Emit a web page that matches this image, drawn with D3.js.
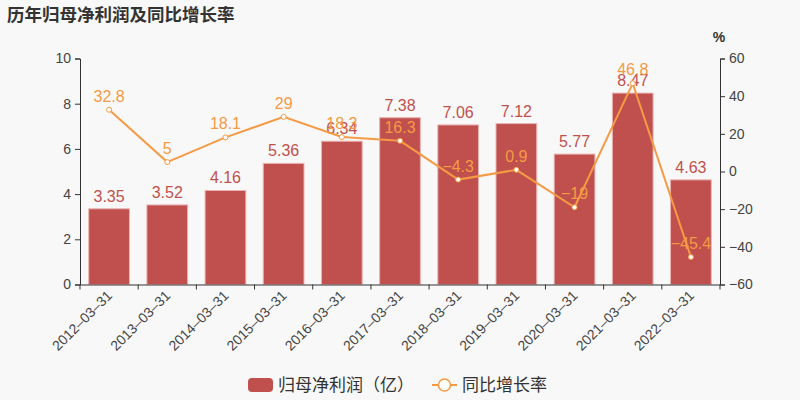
<!DOCTYPE html>
<html><head><meta charset="utf-8">
<script src="https://cdn.jsdelivr.net/npm/d3@7"></script>
<style>body{margin:0;background:#f8f8f8;}svg{display:block;font-family:"Noto Sans CJK SC","Liberation Sans",sans-serif;}</style>
</head><body><svg id="c" width="800" height="400"></svg>
<script>
const categories = ["2012-03-31","2013-03-31","2014-03-31","2015-03-31","2016-03-31","2017-03-31","2018-03-31","2019-03-31","2020-03-31","2021-03-31","2022-03-31"];
const profit = [3.35,3.52,4.16,5.36,6.34,7.38,7.06,7.12,5.77,8.47,4.63];
const growth = [32.8,5,18.1,29,18.3,16.3,-4.3,0.9,-19,46.8,-45.4];
const leftTicks = [0,2,4,6,8,10];
const rightTicks = [-60,-40,-20,0,20,40,60];

const svg = d3.select("#c");
svg.append("rect").attr("width",800).attr("height",400).attr("fill","#f8f8f8");
const L=80,R=720,T=58.5,B=284.5;
const barColor="#c0504d", lineColor="#f59a45";
const x = d3.scaleBand().domain(categories).range([L,R]).paddingInner(0.3).paddingOuter(0.15);
const xb = d3.scaleBand().domain(categories).range([L,R]);
const y = d3.scaleLinear().domain([0,10]).range([B,T]);
const y2 = d3.scaleLinear().domain([-60,60]).range([B,T]);

svg.append("text").attr("x",7).attr("y",21).text("历年归母净利润及同比增长率")
  .attr("font-size",17.5).attr("font-weight","bold").attr("fill","#333");

// bars
svg.selectAll("rect.bar").data(profit).join("rect").attr("class","bar")
  .attr("x",(d,i)=>x(categories[i])).attr("width",x.bandwidth())
  .attr("y",d=>y(d)).attr("height",d=>B-y(d))
  .attr("fill",barColor).attr("stroke","#e9b3b2").attr("stroke-width",1);

// axes
const ax = svg.append("g").attr("transform",`translate(${L},0)`)
  .call(d3.axisLeft(y).tickValues(leftTicks).tickSize(5).tickPadding(4));
const ax2 = svg.append("g").attr("transform",`translate(${R},0)`)
  .call(d3.axisRight(y2).tickValues(rightTicks).tickSize(5).tickPadding(4).tickFormat(d=>d<0?"\u2212"+Math.abs(d):d));
const axb = svg.append("g").attr("transform",`translate(0,${B})`)
  .call(d3.axisBottom(xb).tickSize(0).tickPadding(8));
[ax,ax2,axb].forEach(g=>{
  g.select(".domain").attr("stroke","#333");
  g.selectAll(".tick line").attr("stroke","#333");
  g.selectAll("text").attr("fill","#444").attr("font-size",14).attr("font-family","Liberation Sans, sans-serif");
});
// x ticks at band boundaries
axb.selectAll(".tick line").remove();
const bounds = categories.map(c=>xb(c)).concat([R]);
axb.selectAll("line.bt").data(bounds).join("line").attr("class","bt")
  .attr("x1",d=>d).attr("x2",d=>d).attr("y1",0).attr("y2",5).attr("stroke","#333");
axb.selectAll(".tick text").attr("text-anchor","end").attr("y",0).attr("dy","0")
  .attr("transform","translate(4,12) rotate(-45)");
axb.selectAll(".tick text").text(d=>d.replace(/-/g,"\u2013"));

svg.append("text").attr("x",719).attr("y",42).attr("text-anchor","middle").text("%")
  .attr("font-size",14).attr("font-weight","bold").attr("fill","#333").attr("font-family","Liberation Sans, sans-serif");

// bar labels
svg.selectAll("text.bl").data(profit).join("text").attr("class","bl")
  .attr("x",(d,i)=>x(categories[i])+x.bandwidth()/2).attr("y",d=>y(d)-7)
  .attr("text-anchor","middle").attr("fill",barColor).attr("font-size",16)
  .attr("font-family","Liberation Sans, sans-serif").text(d=>d);

// line
const cx = (i)=>x(categories[i])+x.bandwidth()/2;
svg.append("path").datum(growth)
  .attr("d",d3.line().x((d,i)=>cx(i)).y(d=>y2(d)))
  .attr("fill","none").attr("stroke",lineColor).attr("stroke-width",2);
svg.selectAll("circle.pt").data(growth).join("circle").attr("class","pt")
  .attr("cx",(d,i)=>cx(i)).attr("cy",d=>y2(d)).attr("r",2.5)
  .attr("fill","#fff").attr("stroke",lineColor).attr("stroke-width",1);
svg.selectAll("text.ll").data(growth).join("text").attr("class","ll")
  .attr("x",(d,i)=>cx(i)).attr("y",d=>y2(d)-8)
  .attr("text-anchor","middle").attr("fill",lineColor).attr("font-size",16)
  .attr("font-family","Liberation Sans, sans-serif").text(d=>d<0?"\u2212"+Math.abs(d):d);

// legend
const lg = svg.append("g");
lg.append("rect").attr("x",248).attr("y",378).attr("width",25).attr("height",14).attr("rx",4).attr("fill",barColor);
lg.append("text").attr("x",278).attr("y",391).text("归母净利润（亿）").attr("font-size",17).attr("fill","#333");
lg.append("line").attr("x1",432).attr("x2",457).attr("y1",385).attr("y2",385).attr("stroke",lineColor).attr("stroke-width",2);
lg.append("circle").attr("cx",444.5).attr("cy",385).attr("r",6).attr("fill","#fff").attr("stroke",lineColor).attr("stroke-width",1.5);
lg.append("text").attr("x",462).attr("y",391).text("同比增长率").attr("font-size",17).attr("fill","#333");
</script></body></html>
